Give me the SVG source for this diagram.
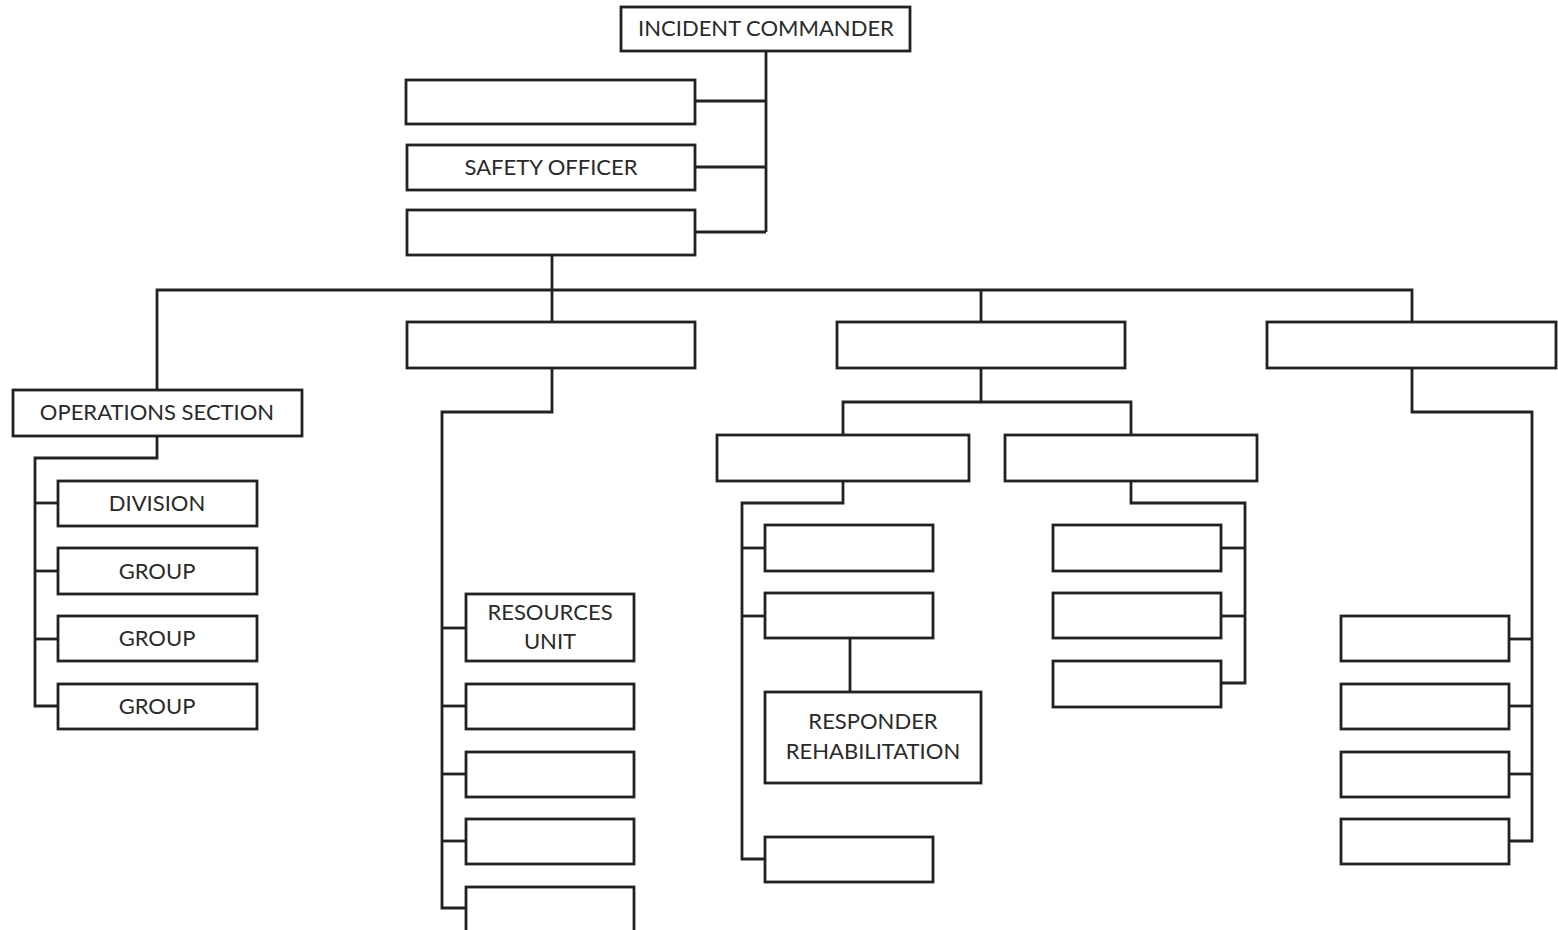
<svg xmlns="http://www.w3.org/2000/svg" width="1558" height="930" viewBox="0 0 1558 930">
<style>
.box{fill:#fff;stroke:#222;stroke-width:2.8}
.ln{fill:none;stroke:#222;stroke-width:2.8;stroke-linejoin:miter}
.t{font-family:Lato,"Liberation Sans",Arial,sans-serif;font-size:22px;fill:#2a2a2a;text-anchor:middle}
</style>
<rect width="1558" height="930" fill="#fff"/>
<g id="connectors">
<polyline class="ln" points="766,51 766,232"/>
<polyline class="ln" points="695,101 766,101"/>
<polyline class="ln" points="695,167 766,167"/>
<polyline class="ln" points="695,232 766,232"/>
<polyline class="ln" points="552,255 552,322"/>
<polyline class="ln" points="157,390 157,290 1412,290 1412,322"/>
<polyline class="ln" points="981,290 981,322"/>
<polyline class="ln" points="157,436 157,458 35,458 35,706 58,706"/>
<polyline class="ln" points="35,503 58,503"/>
<polyline class="ln" points="35,571 58,571"/>
<polyline class="ln" points="35,639 58,639"/>
<polyline class="ln" points="552,368 552,412 442,412 442,908 466,908"/>
<polyline class="ln" points="442,628 466,628"/>
<polyline class="ln" points="442,706 466,706"/>
<polyline class="ln" points="442,774 466,774"/>
<polyline class="ln" points="442,841 466,841"/>
<polyline class="ln" points="981,368 981,402"/>
<polyline class="ln" points="843,435 843,402 1131,402 1131,435"/>
<polyline class="ln" points="843,481 843,503 742,503 742,859 765,859"/>
<polyline class="ln" points="742,548 765,548"/>
<polyline class="ln" points="742,616 765,616"/>
<polyline class="ln" points="850,638 850,692"/>
<polyline class="ln" points="1131,481 1131,503 1245,503 1245,683 1221,683"/>
<polyline class="ln" points="1221,548 1245,548"/>
<polyline class="ln" points="1221,616 1245,616"/>
<polyline class="ln" points="1412,368 1412,412 1532,412 1532,841 1509,841"/>
<polyline class="ln" points="1509,639 1532,639"/>
<polyline class="ln" points="1509,706 1532,706"/>
<polyline class="ln" points="1509,774 1532,774"/>
</g>
<g id="incident-commander"><rect class="box" x="621" y="7" width="289" height="44"/><text class="t" x="766" y="36">INCIDENT COMMANDER</text></g>
<g id="staff-1"><rect class="box" x="406" y="80" width="289" height="44"/></g>
<g id="safety-officer"><rect class="box" x="407" y="145" width="288" height="45"/><text class="t" x="551" y="175">SAFETY OFFICER</text></g>
<g id="staff-3"><rect class="box" x="407" y="210" width="288" height="45"/></g>
<g id="operations-section"><rect class="box" x="13" y="390" width="289" height="46"/><text class="t" x="157" y="420">OPERATIONS SECTION</text></g>
<g id="division"><rect class="box" x="58" y="481" width="199" height="45"/><text class="t" x="157" y="511">DIVISION</text></g>
<g id="group-1"><rect class="box" x="58" y="548" width="199" height="46"/><text class="t" x="157" y="579">GROUP</text></g>
<g id="group-2"><rect class="box" x="58" y="616" width="199" height="45"/><text class="t" x="157" y="646">GROUP</text></g>
<g id="group-3"><rect class="box" x="58" y="684" width="199" height="45"/><text class="t" x="157" y="714">GROUP</text></g>
<g id="section-2"><rect class="box" x="407" y="322" width="288" height="46"/></g>
<g id="resources-unit"><rect class="box" x="466" y="594" width="168" height="67"/><text class="t" x="550" y="620">RESOURCES</text><text class="t" x="550" y="649">UNIT</text></g>
<g id="unit-2"><rect class="box" x="466" y="684" width="168" height="45"/></g>
<g id="unit-3"><rect class="box" x="466" y="752" width="168" height="45"/></g>
<g id="unit-4"><rect class="box" x="466" y="819" width="168" height="45"/></g>
<g id="unit-5"><rect class="box" x="466" y="887" width="168" height="50"/></g>
<g id="section-3"><rect class="box" x="837" y="322" width="288" height="46"/></g>
<g id="branch-l"><rect class="box" x="717" y="435" width="252" height="46"/></g>
<g id="branch-r"><rect class="box" x="1005" y="435" width="252" height="46"/></g>
<g id="unit-l1"><rect class="box" x="765" y="525" width="168" height="46"/></g>
<g id="unit-l2"><rect class="box" x="765" y="593" width="168" height="45"/></g>
<g id="responder-rehab"><rect class="box" x="765" y="692" width="216" height="91"/><text class="t" x="873" y="729">RESPONDER</text><text class="t" x="873" y="759">REHABILITATION</text></g>
<g id="unit-l3"><rect class="box" x="765" y="837" width="168" height="45"/></g>
<g id="unit-r1"><rect class="box" x="1053" y="525" width="168" height="46"/></g>
<g id="unit-r2"><rect class="box" x="1053" y="593" width="168" height="45"/></g>
<g id="unit-r3"><rect class="box" x="1053" y="661" width="168" height="46"/></g>
<g id="section-4"><rect class="box" x="1267" y="322" width="289" height="46"/></g>
<g id="unit-s1"><rect class="box" x="1341" y="616" width="168" height="45"/></g>
<g id="unit-s2"><rect class="box" x="1341" y="684" width="168" height="45"/></g>
<g id="unit-s3"><rect class="box" x="1341" y="752" width="168" height="45"/></g>
<g id="unit-s4"><rect class="box" x="1341" y="819" width="168" height="45"/></g>
</svg>
